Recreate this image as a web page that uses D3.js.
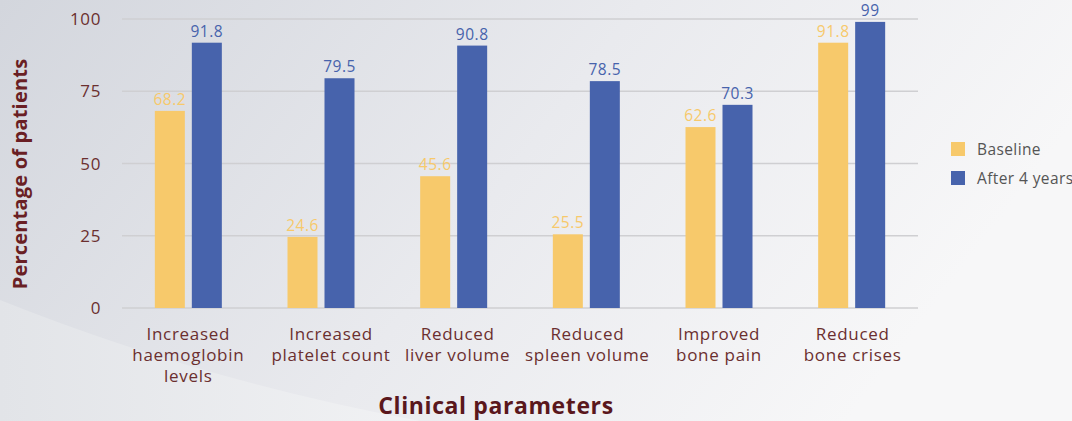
<!DOCTYPE html>
<html><head><meta charset="utf-8">
<script src="https://cdn.jsdelivr.net/npm/d3@7"></script>
<style>html,body{margin:0;padding:0;}svg{display:block;}</style>
</head><body>
<script>
const categories = [["Increased","haemoglobin","levels"],["Increased","platelet count"],["Reduced","liver volume"],["Reduced","spleen volume"],["Improved","bone pain"],["Reduced","bone crises"]];
const baseline = [68.2, 24.6, 45.6, 25.5, 62.6, 91.8];
const after4 = [91.8, 79.5, 90.8, 78.5, 70.3, 99];
const seriesNames = ["Baseline", "After 4 years"];
const yTicks = [0, 25, 50, 75, 100];

const W = 1072, H = 421;
const colors = ["#F7C96B", "#4763AC"];
const font = "'Open Sans', 'Noto Sans', sans-serif";
const labelNudge = [0, 10, 4, 1, 0, 1];
const svg = d3.select("body").append("svg").attr("width", W).attr("height", H);
const defs = svg.append("defs");
const lg = defs.append("linearGradient").attr("id","bg").attr("x1","0").attr("y1","0").attr("x2","1").attr("y2","0.3");
lg.append("stop").attr("offset","0").attr("stop-color","#d3d6dd");
lg.append("stop").attr("offset","0.55").attr("stop-color","#e9eaee");
lg.append("stop").attr("offset","1").attr("stop-color","#f7f7f8");
svg.append("rect").attr("width",W).attr("height",H).attr("fill","url(#bg)");
const lg2 = defs.append("linearGradient").attr("id","sw").attr("x1","0").attr("y1","0").attr("x2","1").attr("y2","0");
lg2.append("stop").attr("offset","0").attr("stop-color","#e2e4e8");
lg2.append("stop").attr("offset","1").attr("stop-color","#f1f2f4");
svg.append("path").attr("d","M0,300 Q200,380 420,421 L0,421 Z").attr("fill","url(#sw)");

const x0 = d3.scaleBand().domain(d3.range(categories.length)).range([122, 918]).paddingInner(0).paddingOuter(0);
const x1 = d3.scaleBand().domain([0,1]).range([x0.bandwidth()/2 - 33.5, x0.bandwidth()/2 + 33.5]).paddingInner(0.189);
const y = d3.scaleLinear().domain([0,100]).range([308, 19]);

// gridlines
svg.append("g").selectAll("line").data(yTicks).join("line")
  .attr("x1",122).attr("x2",918).attr("y1",d=>y(d)).attr("y2",d=>y(d))
  .attr("stroke","#cfcfd2").attr("stroke-width",1.6);
// y tick labels
svg.append("g").selectAll("text").data(yTicks).join("text")
  .attr("x",101).attr("y",d=>y(d)).attr("dy","0.36em").attr("text-anchor","end")
  .attr("font-family",font).attr("font-size",17).attr("letter-spacing",0.6).attr("fill","#6b2f2f").text(d=>d);

const series = [baseline, after4];
series.forEach((vals, si) => {
  const g = svg.append("g");
  g.selectAll("rect").data(vals).join("rect")
    .attr("x",(d,i)=>x0(i)+x1(si)).attr("width",x1.bandwidth())
    .attr("y",d=>y(d)).attr("height",d=>y(0)-y(d)).attr("fill",colors[si]);
  g.selectAll("text").data(vals).join("text")
    .attr("x",(d,i)=>x0(i)+x1(si)+x1.bandwidth()/2).attr("y",d=>y(d)-6)
    .attr("text-anchor","middle").attr("font-family",font).attr("font-size",15.5).attr("letter-spacing",0.5)
    .attr("fill",colors[si]).text(d=>d);
});

// x labels
const xl = svg.append("g").selectAll("text").data(categories).join("text")
  .attr("x",(d,i)=>x0(i)+x0.bandwidth()/2+labelNudge[i]).attr("y",340)
  .attr("text-anchor","middle").attr("font-family",font).attr("font-size",17).attr("letter-spacing",0.7).attr("fill","#6b2f2f");
xl.each(function(lines, i){
  d3.select(this).selectAll("tspan").data(lines).join("tspan")
    .attr("x",x0(i)+x0.bandwidth()/2+labelNudge[i]).attr("dy",(d,j)=>j===0?0:21).text(d=>d);
});

// axis titles
svg.append("text").attr("transform","translate(27,174) rotate(-90)").attr("text-anchor","middle")
  .attr("font-family",font).attr("font-weight","bold").attr("font-size",20).attr("letter-spacing",0.2).attr("fill","#6a1f24")
  .text("Percentage of patients");
svg.append("text").attr("x",496).attr("y",414).attr("text-anchor","middle")
  .attr("font-family",font).attr("font-weight","bold").attr("font-size",23).attr("letter-spacing",0.6).attr("fill","#5a171c")
  .text("Clinical parameters");

// legend
const leg = svg.append("g").selectAll("g").data(seriesNames).join("g")
  .attr("transform",(d,i)=>`translate(951,${142+i*29})`);
leg.append("rect").attr("width",14).attr("height",14).attr("fill",(d,i)=>colors[i]);
leg.append("text").attr("x",26).attr("y",7).attr("dy","0.36em").attr("font-family",font)
  .attr("font-size",15.5).attr("letter-spacing",0.4).attr("fill","#555").text(d=>d);
</script>
</body></html>
